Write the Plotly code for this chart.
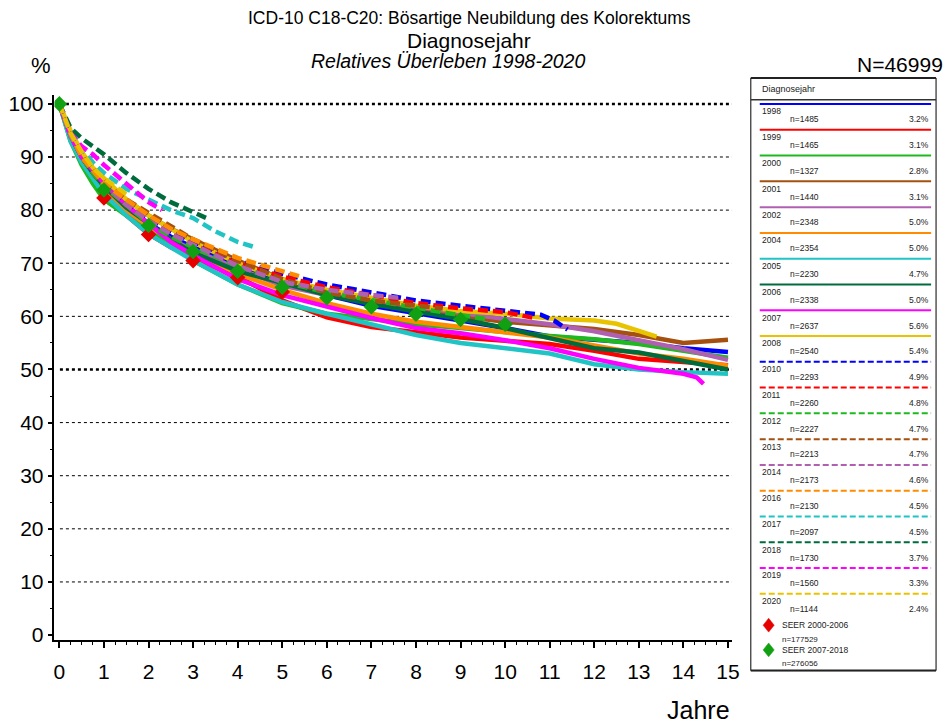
import plotly.graph_objects as go

# ---------------- data ----------------
cohorts = ["1998", "1999", "2000", "2001", "2002", "2004", "2005", "2006", "2007", "2008",
           "2010", "2011", "2012", "2013", "2014", "2016", "2017", "2018", "2019", "2020"]
n_counts = [1485, 1465, 1327, 1440, 2348, 2354, 2230, 2338, 2637, 2540,
            2293, 2260, 2227, 2213, 2173, 2130, 2097, 1730, 1560, 1144]
pct_share = ["3.2%", "3.1%", "2.8%", "3.1%", "5.0%", "5.0%", "4.7%", "5.0%", "5.6%", "5.4%",
             "4.9%", "4.8%", "4.7%", "4.7%", "4.6%", "4.5%", "4.5%", "3.7%", "3.3%", "2.4%"]
base_colors = ["#0000FF", "#FF0000", "#1EB91E", "#A5500F", "#B060B0",
               "#FF8C00", "#20C4C4", "#006B3C", "#FF00FF", "#E9C300"]
colors = base_colors + base_colors
dashed = [False] * 10 + [True] * 10

t_long = [0, 0.25, 0.5, 0.75, 1, 1.5, 2, 2.5, 3, 4, 5, 6, 7, 8, 9, 10, 11, 12, 13, 14, 15]

t_1998 = t_long
s_1998 = [100, 94, 90, 87, 84.5, 80.5, 77.5, 75, 73, 69.5, 66.5, 64, 62, 60.5, 59.2, 57.8, 56.2, 55.6, 55, 54, 53.3]
t_1999 = t_long
s_1999 = [100, 93.5, 89, 86, 83, 79, 75.5, 73, 71, 67.5, 63, 59.8, 58, 57, 56, 55.4, 54.8, 53.5, 52, 51.4, 50.8]
t_2000 = t_long
s_2000 = [100, 93, 88.5, 85, 82, 79, 76.5, 73.5, 70.5, 66, 62.5, 60.5, 59.5, 58.5, 57.8, 57, 56.3, 55.7, 54.8, 53.5, 52.2]
t_2001 = t_long
s_2001 = [100, 94, 90, 87.5, 85, 82, 79, 76.5, 74.5, 70.5, 67, 64.8, 63, 61.5, 60, 59, 58.3, 57.6, 56.5, 55, 55.6]
t_2002 = t_long
s_2002 = [100, 93.5, 89.5, 86.5, 84, 80, 77, 74.5, 72.5, 69, 65.8, 64, 63, 61.8, 60.5, 59.5, 58.5, 57.2, 55.5, 53.8, 51.8]
t_2004 = t_long
s_2004 = [100, 93.5, 89.5, 86.5, 84, 80, 77, 74.5, 72, 68, 65, 62.5, 60.5, 59, 58, 57.2, 56, 54.5, 53, 52, 50.7]
t_2005 = t_long
s_2005 = [100, 93, 89, 86, 83, 79, 75.5, 73, 70.5, 66, 62.7, 60.5, 58.4, 56.5, 55, 54, 53, 51, 50, 49.5, 49.2]
t_2006 = t_long
s_2006 = [100, 94, 90, 87, 84.5, 80.5, 77.5, 74.5, 72, 68.5, 66.3, 64, 62.3, 61, 59.5, 57.8, 56, 54, 53.2, 51.5, 50]
t_2007 = [0, 0.25, 0.5, 0.75, 1, 1.5, 2, 2.5, 3, 4, 5, 6, 7, 8, 9, 10, 11, 12, 13, 14, 14.3, 14.45]
s_2007 = [100, 94, 90, 87.5, 85, 81, 77.5, 74, 71.5, 67, 64, 61.8, 59.7, 57.8, 56.8, 55.5, 54, 52, 50.3, 49.2, 48.5, 47.3]
t_2008 = [0, 0.25, 0.5, 0.75, 1, 1.5, 2, 2.5, 3, 4, 5, 6, 7, 8, 9, 10, 11, 12, 12.5, 13, 13.4]
s_2008 = [100, 95, 91, 88, 86, 82, 79, 76.5, 74, 70, 67, 65, 63.5, 62, 61, 60.5, 59.6, 59.2, 58.6, 57.2, 56.2]
t_2010 = [0, 0.25, 0.5, 0.75, 1, 1.5, 2, 2.5, 3, 4, 5, 6, 7, 8, 9, 10, 10.8, 11.1, 11.4]
s_2010 = [100, 94.5, 90.5, 87.5, 85, 81.5, 78.5, 76, 74, 70.5, 68, 66, 64.5, 63, 62, 61, 60.3, 59.2, 57.5]
t_2011 = [0, 0.25, 0.5, 0.75, 1, 1.5, 2, 2.5, 3, 4, 5, 6, 7, 8, 9, 10, 10.7]
s_2011 = [100, 94.5, 90, 87, 84.5, 81, 78, 75.5, 73.5, 70, 67.5, 65.5, 64, 62.5, 61.5, 60.8, 59.6]
t_2012 = [0, 0.25, 0.5, 0.75, 1, 1.5, 2, 2.5, 3, 4, 5, 6, 7, 8, 9, 9.6]
s_2012 = [100, 94, 90, 87, 84.5, 81, 77.5, 75, 73, 69.5, 66.5, 64.5, 63, 61.5, 60.2, 59.5]
t_2013 = [0, 0.25, 0.5, 0.75, 1, 1.5, 2, 2.5, 3, 4, 5, 6, 7, 8, 8.6]
s_2013 = [100, 94.5, 90.5, 88, 85.5, 82, 79.5, 77, 74.5, 70.5, 67, 64.5, 63, 62, 61.5]
t_2014 = [0, 0.25, 0.5, 0.75, 1, 1.5, 2, 2.5, 3, 4, 5, 6, 7, 7.6]
s_2014 = [100, 94, 90, 87.5, 85, 81, 78, 75.5, 73.5, 69.5, 66.5, 65, 64, 63.5]
t_2016 = [0, 0.25, 0.5, 0.75, 1, 1.5, 2, 2.5, 3, 4, 5, 5.4]
s_2016 = [100, 94.5, 90, 87.5, 85, 82, 79, 76.5, 74.5, 71, 68.5, 67.5]
t_2017 = [0, 0.25, 0.5, 0.75, 1, 1.5, 2, 2.5, 3, 3.5, 4, 4.4]
s_2017 = [100, 95, 91.5, 89, 87, 84, 82, 80, 78.5, 76, 74, 73]
t_2018 = [0, 0.25, 0.5, 1, 1.5, 2, 2.5, 3, 3.3]
s_2018 = [100, 95.5, 93.5, 90.5, 87, 84, 81.5, 79.5, 78.5]
t_2019 = [0, 0.25, 0.5, 0.75, 1, 1.5, 2, 2.3]
s_2019 = [100, 94.5, 92, 90.5, 88.5, 85, 81.5, 80]
t_2020 = [0, 0.25, 0.5, 0.75, 1, 1.5]
s_2020 = [100, 94.5, 91, 88, 86, 83]

times = [t_1998, t_1999, t_2000, t_2001, t_2002, t_2004, t_2005, t_2006, t_2007, t_2008,
         t_2010, t_2011, t_2012, t_2013, t_2014, t_2016, t_2017, t_2018, t_2019, t_2020]
survs = [s_1998, s_1999, s_2000, s_2001, s_2002, s_2004, s_2005, s_2006, s_2007, s_2008,
         s_2010, s_2011, s_2012, s_2013, s_2014, s_2016, s_2017, s_2018, s_2019, s_2020]

seer_labels = ["SEER 2000-2006", "SEER 2007-2018"]
seer_n = ["n=177529", "n=276056"]
seer_colors = ["#E60000", "#11A011"]
seer1_t = [1, 2, 3, 4, 5]
seer1_s = [82.3, 75.4, 70.5, 67.3, 64.6]
seer2_t = [0, 1, 2, 3, 4, 5, 6, 7, 8, 9, 10]
seer2_s = [100, 83.8, 77.1, 72.2, 68.5, 65.5, 63.5, 61.8, 60.4, 59.4, 58.5]

y_ticks = list(range(0, 101, 10))
x_ticks = list(range(0, 16))

# ---------------- figure ----------------
W, H = 949, 726
FONT = "Liberation Sans, Arial, sans-serif"


def PX(x):
    return x / W


def PY(y):
    return 1 - y / H


plot_l, plot_r, plot_t, plot_b = 54, 738, 93, 645

fig = go.Figure()

for name, t, s, c, d in zip(cohorts, times, survs, colors, dashed):
    fig.add_trace(go.Scatter(
        x=t, y=s, mode="lines", name=name,
        line=dict(color=c, width=4.5, dash="10px,5px" if d else "solid"),
        hoverinfo="skip"))

fig.add_trace(go.Scatter(x=seer1_t, y=seer1_s, mode="markers", name=seer_labels[0],
                         marker=dict(symbol="diamond", size=12, color=seer_colors[0])))
fig.add_trace(go.Scatter(x=seer2_t, y=seer2_s, mode="markers", name=seer_labels[1],
                         marker=dict(symbol="diamond", size=12, color=seer_colors[1])))

shapes = []
# dotted grid lines
for v in y_ticks[1:]:
    bold = v in (50, 100)
    shapes.append(dict(type="line", xref="x domain", yref="y", x0=0.008, x1=1, y0=v, y1=v,
                       line=dict(color="black", width=2.5 if bold else 1, dash="dot"),
                       layer="below"))

# legend box
shapes.append(dict(type="rect", xref="paper", yref="paper",
                   x0=PX(757), x1=PX(944), y0=PY(676), y1=PY(76),
                   line=dict(color="black", width=1)))
shapes.append(dict(type="line", xref="paper", yref="paper",
                   x0=PX(757), x1=PX(944), y0=PY(76), y1=PY(76),
                   line=dict(color="#222", width=2)))
shapes.append(dict(type="line", xref="paper", yref="paper",
                   x0=PX(757), x1=PX(944), y0=PY(676), y1=PY(676),
                   line=dict(color="#222", width=2)))
shapes.append(dict(type="line", xref="paper", yref="paper",
                   x0=PX(757), x1=PX(944), y0=PY(98), y1=PY(98),
                   line=dict(color="#333", width=1.5)))

annotations = []
annotations.append(dict(text="Diagnosejahr", x=PX(766), y=PY(87), xref="paper", yref="paper",
                        xanchor="left", yanchor="middle", showarrow=False,
                        font=dict(size=9, color="#222", family=FONT)))

row_h = 26.1
for i, (name, n, p, c, d) in enumerate(zip(cohorts, n_counts, pct_share, colors, dashed)):
    ly = 102.3 + row_h * i
    shapes.append(dict(type="line", xref="paper", yref="paper",
                       x0=PX(766), x1=PX(939), y0=PY(ly), y1=PY(ly),
                       line=dict(color=c, width=2, dash="6px,3px" if d else "solid")))
    annotations.append(dict(text=name, x=PX(766), y=PY(ly + 7.5), xref="paper", yref="paper",
                            xanchor="left", yanchor="middle", showarrow=False,
                            font=dict(size=8.5, color="#222", family=FONT)))
    annotations.append(dict(text="n=%d" % n, x=PX(795), y=PY(ly + 15.5), xref="paper", yref="paper",
                            xanchor="left", yanchor="middle", showarrow=False,
                            font=dict(size=8.5, color="#222", family=FONT)))
    annotations.append(dict(text=p, x=PX(939), y=PY(ly + 15.5), xref="paper", yref="paper",
                            xanchor="right", yanchor="middle", showarrow=False,
                            font=dict(size=8.5, color="#222", family=FONT)))

for k, (lab, nn, col) in enumerate(zip(seer_labels, seer_n, seer_colors)):
    cy = 630 + 25 * k
    cx = 775
    r = 7
    path = "M {},{} L {},{} L {},{} L {},{} Z".format(
        PX(cx), PY(cy - r), PX(cx + r * 0.8), PY(cy), PX(cx), PY(cy + r), PX(cx - r * 0.8), PY(cy))
    shapes.append(dict(type="path", xref="paper", yref="paper", path=path,
                       fillcolor=col, line=dict(color=col, width=0.5)))
    annotations.append(dict(text=lab, x=PX(786), y=PY(cy), xref="paper", yref="paper",
                            xanchor="left", yanchor="middle", showarrow=False,
                            font=dict(size=8.5, color="#222", family=FONT)))
    annotations.append(dict(text=nn, x=PX(786), y=PY(cy + 14), xref="paper", yref="paper",
                            xanchor="left", yanchor="middle", showarrow=False,
                            font=dict(size=8, color="#222", family=FONT)))

# titles and axis captions
annotations += [
    dict(text="ICD-10 C18-C20: Bösartige Neubildung des Kolorektums", x=PX(473), y=PY(15),
         xref="paper", yref="paper", xanchor="center", yanchor="middle", showarrow=False,
         font=dict(size=17.5, color="black", family=FONT)),
    dict(text="Diagnosejahr", x=PX(472), y=PY(38), xref="paper", yref="paper",
         xanchor="center", yanchor="middle", showarrow=False,
         font=dict(size=21, color="black", family=FONT)),
    dict(text="<i>Relatives Überleben 1998-2020</i>", x=PX(451), y=PY(59), xref="paper", yref="paper",
         xanchor="center", yanchor="middle", showarrow=False,
         font=dict(size=19.5, color="black", family=FONT)),
    dict(text="%", x=PX(40), y=PY(63), xref="paper", yref="paper",
         xanchor="center", yanchor="middle", showarrow=False,
         font=dict(size=22, color="black", family=FONT)),
    dict(text="N=46999", x=PX(953), y=PY(62), xref="paper", yref="paper",
         xanchor="right", yanchor="middle", showarrow=False,
         font=dict(size=21, color="black", family=FONT)),
    dict(text="Jahre", x=PX(704), y=PY(716), xref="paper", yref="paper",
         xanchor="center", yanchor="middle", showarrow=False,
         font=dict(size=25, color="black", family=FONT)),
]

fig.update_layout(
    width=W, height=H,
    margin=dict(l=0, r=0, t=0, b=0),
    paper_bgcolor="white", plot_bgcolor="white",
    showlegend=False,
    font=dict(family=FONT, color="black"),
    shapes=shapes, annotations=annotations,
    xaxis=dict(domain=[PX(plot_l), PX(plot_r)], range=[-0.11, 15.09],
               tickvals=x_ticks, ticktext=[str(v) for v in x_ticks],
               showgrid=False, zeroline=False, showline=True, linecolor="black", linewidth=1.5,
               ticks="outside", ticklen=6, tickwidth=1.5, tickcolor="black",
               ticklabelstandoff=6,
               tickfont=dict(size=21, family=FONT, color="black"),
               minor=dict(dtick=0.25, tick0=0, ticks="outside", ticklen=3, tickwidth=1,
                          tickcolor="black", showgrid=False)),
    yaxis=dict(domain=[1 - plot_b / H, 1 - plot_t / H], range=[-0.93, 101.7],
               tickvals=y_ticks, ticktext=[str(v) for v in y_ticks],
               showgrid=False, zeroline=False, showline=True, linecolor="black", linewidth=1.5,
               ticks="outside", ticklen=5, tickwidth=1.5, tickcolor="black",
               tickfont=dict(size=21, family=FONT, color="black"),
               minor=dict(dtick=5, tick0=0, ticks="outside", ticklen=3, tickwidth=1,
                          tickcolor="black", showgrid=False)),
)

fig.write_html("out.html", config={"displayModeBar": False},
               post_script="document.body.style.margin='0px';")
